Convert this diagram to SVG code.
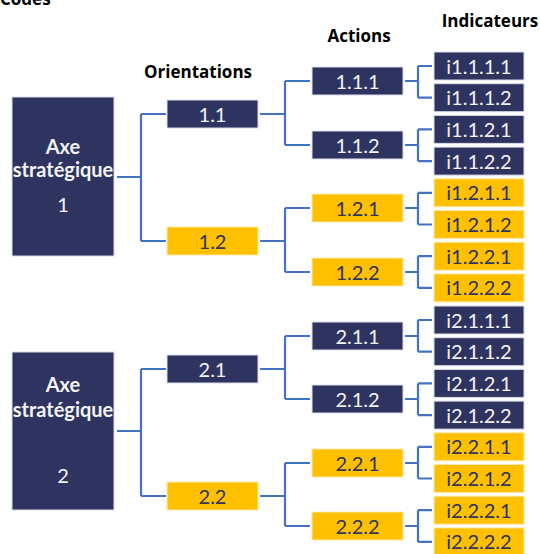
<svg xmlns="http://www.w3.org/2000/svg" width="540" height="554" viewBox="0 0 540 554">
<style>
.hd{font-family:"Open Sans","Liberation Sans",sans-serif;font-weight:bold;font-size:17px;fill:#000}
.ax{font-family:"Open Sans","Liberation Sans",sans-serif;font-weight:bold;font-size:17.3px;fill:#F4F4F4;text-anchor:middle}
.axn{font-family:Lato,"Liberation Sans",sans-serif;font-size:20px;fill:#F4F4F4;text-anchor:middle}
.n rect{fill:#2E335F;stroke:#DADDE8;stroke-width:1}
.y rect{fill:#FFC000;stroke:#FFE9A8;stroke-width:1}
.n text,.y text{font-family:Lato,"Liberation Sans",sans-serif;font-size:20px;text-anchor:middle}
.n text{fill:#F4F4F4}
.y text{fill:#2E335F}
#connectors path{fill:none;stroke:#4472C4;stroke-width:2.2}
</style>
<text class="hd" x="0" y="5">Codes</text>
<text class="hd" x="198" y="78" text-anchor="middle">Orientations</text>
<text class="hd" x="359" y="42" text-anchor="middle">Actions</text>
<text class="hd" x="490" y="27" text-anchor="middle">Indicateurs</text>

<g id="connectors">
<path d="M117 177H141M141 114V241M141 114H166M141 241H166"/>
<path d="M117 431H141M141 369V496M141 369H166M141 496H166"/>
<path d="M260 114H285M285 81V145M285 81H310M285 145H310"/>
<path d="M260 241H285M285 208V272M285 208H310M285 272H310"/>
<path d="M260 369H285M285 336V399M285 336H310M285 399H310"/>
<path d="M260 496H285M285 463V526M285 463H310M285 526H310"/>
<path d="M405 81H418M418 66V97.7M418 66H432M418 97.7H432"/>
<path d="M405 145H418M418 129.4V161.1M418 129.4H432M418 161.1H432"/>
<path d="M405 208H418M418 192.8V224.5M418 192.8H432M418 224.5H432"/>
<path d="M405 272H418M418 256.2V287.9M418 256.2H432M418 287.9H432"/>
<path d="M405 336H418M418 320V351.7M418 320H432M418 351.7H432"/>
<path d="M405 399H418M418 383.4V415.1M418 383.4H432M418 415.1H432"/>
<path d="M405 463H418M418 446.8V478.5M418 446.8H432M418 478.5H432"/>
<path d="M405 526H418M418 510.2V541.9M418 510.2H432M418 541.9H432"/>
</g>

<g id="axe1" class="n"><rect x="12" y="97" width="102" height="159"/>
<text class="ax" x="63" y="154">Axe</text><text class="ax" x="63" y="177">stratégique</text><text class="axn" x="63" y="212">1</text></g>
<g id="axe2" class="n"><rect x="12" y="352" width="102" height="158"/>
<text class="ax" x="63" y="392">Axe</text><text class="ax" x="63" y="417">stratégique</text><text class="axn" x="63" y="483">2</text></g>

<g id="o11" class="n"><rect x="167" y="100" width="91" height="28"/><text x="212.5" y="121.5">1.1</text></g>
<g id="o12" class="y"><rect x="167" y="227" width="91" height="28"/><text x="212.5" y="248.5">1.2</text></g>
<g id="o21" class="n"><rect x="167" y="355" width="91" height="28"/><text x="212.5" y="376.5">2.1</text></g>
<g id="o22" class="y"><rect x="167" y="482" width="91" height="28"/><text x="212.5" y="503.5">2.2</text></g>

<g id="a111" class="n"><rect x="312" y="67" width="91" height="28"/><text x="357.5" y="88.5">1.1.1</text></g>
<g id="a112" class="n"><rect x="312" y="131" width="91" height="28"/><text x="357.5" y="152.5">1.1.2</text></g>
<g id="a121" class="y"><rect x="312" y="194" width="91" height="28"/><text x="357.5" y="215.5">1.2.1</text></g>
<g id="a122" class="y"><rect x="312" y="258" width="91" height="28"/><text x="357.5" y="279.5">1.2.2</text></g>
<g id="a211" class="n"><rect x="312" y="322" width="91" height="28"/><text x="357.5" y="343.5">2.1.1</text></g>
<g id="a212" class="n"><rect x="312" y="385" width="91" height="28"/><text x="357.5" y="406.5">2.1.2</text></g>
<g id="a221" class="y"><rect x="312" y="449" width="91" height="28"/><text x="357.5" y="470.5">2.2.1</text></g>
<g id="a222" class="y"><rect x="312" y="512" width="91" height="28"/><text x="357.5" y="533.5">2.2.2</text></g>

<g id="i1111" class="n"><rect x="434" y="52" width="90" height="28"/><text x="479" y="73.5">i1.1.1.1</text></g>
<g id="i1112" class="n"><rect x="434" y="83.7" width="90" height="28"/><text x="479" y="105.2">i1.1.1.2</text></g>
<g id="i1121" class="n"><rect x="434" y="115.4" width="90" height="28"/><text x="479" y="136.9">i1.1.2.1</text></g>
<g id="i1122" class="n"><rect x="434" y="147.1" width="90" height="28"/><text x="479" y="168.6">i1.1.2.2</text></g>
<g id="i1211" class="y"><rect x="434" y="178.8" width="90" height="28"/><text x="479" y="200.3">i1.2.1.1</text></g>
<g id="i1212" class="y"><rect x="434" y="210.5" width="90" height="28"/><text x="479" y="232">i1.2.1.2</text></g>
<g id="i1221" class="y"><rect x="434" y="242.2" width="90" height="28"/><text x="479" y="263.7">i1.2.2.1</text></g>
<g id="i1222" class="y"><rect x="434" y="273.9" width="90" height="28"/><text x="479" y="295.4">i1.2.2.2</text></g>
<g id="i2111" class="n"><rect x="434" y="306" width="90" height="28"/><text x="479" y="327.5">i2.1.1.1</text></g>
<g id="i2112" class="n"><rect x="434" y="337.7" width="90" height="28"/><text x="479" y="359.2">i2.1.1.2</text></g>
<g id="i2121" class="n"><rect x="434" y="369.4" width="90" height="28"/><text x="479" y="390.9">i2.1.2.1</text></g>
<g id="i2122" class="n"><rect x="434" y="401.1" width="90" height="28"/><text x="479" y="422.6">i2.1.2.2</text></g>
<g id="i2211" class="y"><rect x="434" y="432.8" width="90" height="28"/><text x="479" y="454.3">i2.2.1.1</text></g>
<g id="i2212" class="y"><rect x="434" y="464.5" width="90" height="28"/><text x="479" y="486">i2.2.1.2</text></g>
<g id="i2221" class="y"><rect x="434" y="496.2" width="90" height="28"/><text x="479" y="517.7">i2.2.2.1</text></g>
<g id="i2222" class="y"><rect x="434" y="527.9" width="90" height="28"/><text x="479" y="549.4">i2.2.2.2</text></g>
</svg>
